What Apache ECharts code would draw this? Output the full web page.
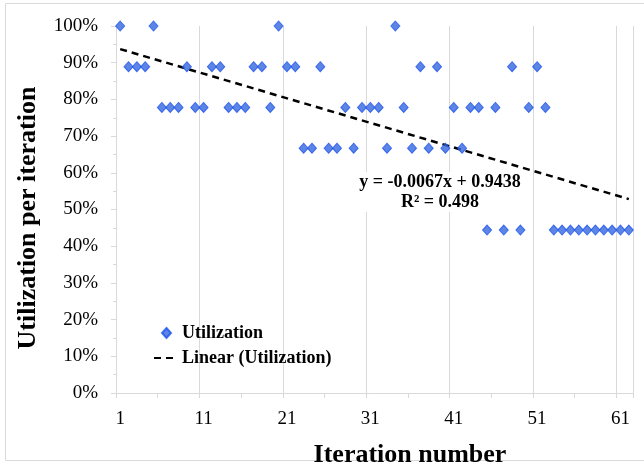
<!DOCTYPE html>
<html>
<head>
<meta charset="utf-8">
<script src="https://cdn.jsdelivr.net/npm/echarts@6/dist/echarts.min.js"></script>
<style>
  html, body { margin: 0; padding: 0; background: #fff; }
  #chart { width: 644px; height: 470px; }
</style>
</head>
<body>
<div id="chart"></div>
<script>
// iteration numbers 1..62
const iterations = ['1','2','3','4','5','6','7','8','9','10','11','12','13','14','15','16','17','18','19','20',
  '21','22','23','24','25','26','27','28','29','30','31','32','33','34','35','36','37','38','39','40',
  '41','42','43','44','45','46','47','48','49','50','51','52','53','54','55','56','57','58','59','60','61','62'];

// utilization per iteration (fractions of 9 slots)
const utilization = [
  1.000, 0.889, 0.889, 0.889, 1.000, 0.778, 0.778, 0.778, 0.889, 0.778,
  0.778, 0.889, 0.889, 0.778, 0.778, 0.778, 0.889, 0.889, 0.778, 1.000,
  0.889, 0.889, 0.667, 0.667, 0.889, 0.667, 0.667, 0.778, 0.667, 0.778,
  0.778, 0.778, 0.667, 1.000, 0.778, 0.667, 0.889, 0.667, 0.889, 0.667,
  0.778, 0.667, 0.778, 0.778, 0.444, 0.778, 0.444, 0.889, 0.444, 0.778,
  0.889, 0.778, 0.444, 0.444, 0.444, 0.444, 0.444, 0.444, 0.444, 0.444,
  0.444, 0.444
];

// trendline as printed on the chart
const trendSlope = -0.0067;
const trendIntercept = 0.9438;
const trendEnds = ['1', '62'];

const chart = echarts.init(document.getElementById('chart'));
const serif = '"Liberation Serif", "Times New Roman", serif';
const gridColor = '#d9d9d9';
const legendText = { fontFamily: serif, fontWeight: 'bold', fontSize: 18, color: '#000' };

const trendData = trendEnds.map(x => [x, trendSlope * Number(x) + trendIntercept]);

const option = {
  animation: false,
  grid: { left: 116, right: 11, top: 26, bottom: 77 },
  legend: [
    {
      left: 156,
      top: 319,
      itemWidth: 9,
      itemHeight: 10,
      textStyle: Object.assign({ padding: [0, 0, 0, 6] }, legendText),
      data: [{ name: 'Utilization', icon: 'diamond' }]
    },
    {
      left: 148,
      top: 344,
      itemWidth: 23,
      itemHeight: 10,
      textStyle: legendText,
      data: [{ name: 'Linear (Utilization)', itemStyle: { opacity: 0 } }]
    }
  ],
  xAxis: {
    type: 'category',
    data: iterations,
    boundaryGap: true,
    axisLine: { lineStyle: { color: gridColor, width: 1 } },
    axisTick: { show: true, interval: 4, length: 5, lineStyle: { color: gridColor } },
    axisLabel: { interval: 9, margin: 17, fontFamily: serif, fontSize: 19, color: '#000' },
    splitLine: { show: true, interval: 9, lineStyle: { color: gridColor, width: 1 } }
  },
  yAxis: {
    type: 'value',
    min: 0,
    max: 1,
    interval: 0.1,
    axisLine: { show: true, lineStyle: { color: gridColor, width: 1 } },
    axisTick: { show: true, length: 5, lineStyle: { color: gridColor } },
    minorTick: { show: true, splitNumber: 2, length: 3, lineStyle: { color: gridColor } },
    splitLine: { show: false },
    axisLabel: {
      margin: 18,
      fontFamily: serif,
      fontSize: 19,
      color: '#000',
      formatter: v => Math.round(v * 100) + '%'
    }
  },
  series: [
    {
      name: 'Utilization',
      type: 'scatter',
      data: utilization,
      symbol: 'diamond',
      symbolSize: [9, 10],
      itemStyle: { color: '#3567dc', borderColor: '#1f55f2', borderWidth: 1 },
      z: 3
    },
    {
      name: 'Linear (Utilization)',
      type: 'line',
      data: trendData,
      symbol: 'none',
      lineStyle: { color: '#000', width: 2.5, type: [7, 5] },
      itemStyle: { color: '#000' },
      z: 2
    }
  ],
  graphic: [
    {
      type: 'rect',
      shape: { x: 5.5, y: 3.5, width: 650, height: 457 },
      style: { fill: 'none', stroke: gridColor, lineWidth: 1 },
      silent: true
    },
    {
      type: 'text',
      z: 10,
      style: {
        x: 440, y: 172,
        text: 'y = -0.0067x + 0.9438\nR² = 0.498',
        align: 'center',
        font: 'bold 18px ' + serif,
        lineHeight: 20,
        fill: '#000',
        backgroundColor: '#fff',
        padding: [0, 2]
      }
    },
    {
      type: 'text',
      style: {
        x: 410, y: 455,
        text: 'Iteration number',
        align: 'center',
        verticalAlign: 'middle',
        font: 'bold 26px ' + serif,
        fill: '#000'
      }
    },
    {
      type: 'text',
      x: 28, y: 218,
      rotation: Math.PI / 2,
      style: {
        x: 0, y: 0,
        text: 'Utilization per iteration',
        align: 'center',
        verticalAlign: 'middle',
        font: 'bold 26px ' + serif,
        fill: '#000'
      }
    }
  ]
};

chart.setOption(option);
</script>
</body>
</html>
